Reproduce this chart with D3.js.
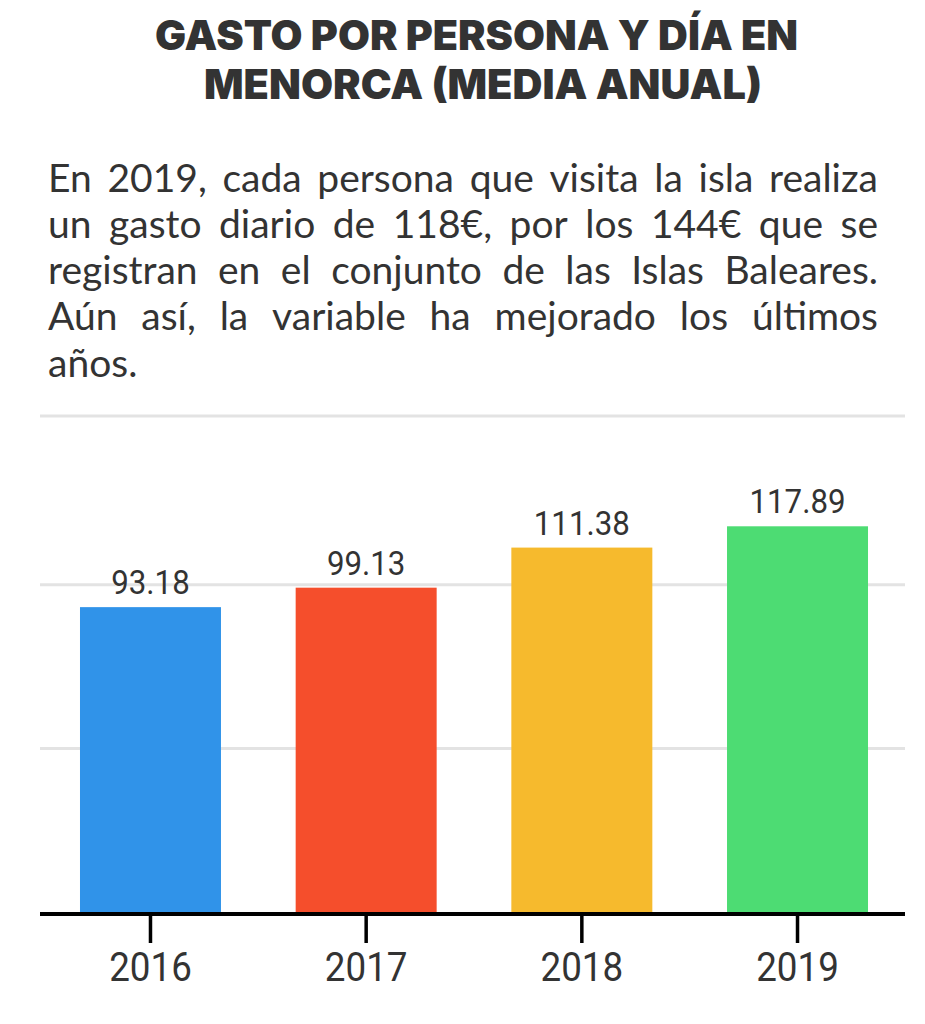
<!DOCTYPE html>
<html>
<head>
<meta charset="utf-8">
<script src="https://cdn.jsdelivr.net/npm/d3@7/dist/d3.min.js"></script>
<style>
  html, body { margin: 0; padding: 0; background: #ffffff; }
  svg { display: block; }
</style>
</head>
<body>
<svg id="chart" width="925" height="1024"></svg>
<script>
// ---- data ----
const titleLines = ["GASTO POR PERSONA Y DÍA EN", "MENORCA (MEDIA ANUAL)"];
const subtitleLines = [
  "En 2019, cada persona que visita la isla realiza",
  "un gasto diario de 118€, por los 144€ que se",
  "registran en el conjunto de las Islas Baleares.",
  "Aún así, la variable ha mejorado los últimos",
  "años."
];
const years = ["2016", "2017", "2018", "2019"];
const values = [93.18, 99.13, 111.38, 117.89];
const barColors = ["#3093e9", "#f54e2c", "#f6ba2d", "#4ddc73"];
const gridValues = [50, 100];

// ---- layout ----
const svg = d3.select("#chart");
const textColor = "#333333";
const plot = { left: 40, right: 905, top: 416, bottom: 912 };
const yMax = 151.6;

// Title
const titleSpecs = [
  { x0: 155, x1: 798, base: 50 },
  { x0: 204, x1: 762, base: 99 }
];
titleLines.forEach((t, i) => {
  const s = titleSpecs[i];
  svg.append("text")
    .attr("x", s.x0).attr("y", s.base)
    .attr("font-family", "Inter, 'Open Sans', sans-serif")
    .attr("font-weight", 900)
    .attr("font-size", 41)
    .attr("fill", textColor)
    .attr("textLength", s.x1 - s.x0)
    .attr("lengthAdjust", "spacingAndGlyphs")
    .text(t);
});

// Subtitle (justified)
const subFont = { family: "Lato, sans-serif", size: 39 };
const subX0 = 48, subX1 = 878;
const subBase0 = 191.7, subStep = 46.25;
function measure(str) {
  const t = svg.append("text")
    .attr("font-family", subFont.family)
    .attr("font-size", subFont.size)
    .text(str);
  const w = t.node().getComputedTextLength();
  t.remove();
  return w;
}
const spaceW = measure("a b") - measure("ab");
subtitleLines.forEach((line, i) => {
  const words = line.split(" ");
  const widths = words.map(measure);
  const total = d3.sum(widths);
  const justified = i < subtitleLines.length - 1 && words.length > 1;
  const gap = justified ? (subX1 - subX0 - total) / (words.length - 1) : spaceW;
  let x = subX0;
  const y = subBase0 + i * subStep;
  words.forEach((w, j) => {
    svg.append("text")
      .attr("x", x).attr("y", y)
      .attr("font-family", subFont.family)
      .attr("font-size", subFont.size)
      .attr("fill", textColor)
      .text(w);
    x += widths[j] + gap;
  });
});

// Scales
const x = d3.scaleBand()
  .domain(years)
  .range([plot.left, 908])
  .paddingInner(0.3463)
  .paddingOuter(0.1854);
const y = d3.scaleLinear()
  .domain([0, yMax])
  .range([plot.bottom, plot.top]);

// Gridlines
const grid = svg.append("g");
grid.selectAll("line.g")
  .data(gridValues)
  .join("line")
  .attr("x1", plot.left).attr("x2", plot.right)
  .attr("y1", d => y(d)).attr("y2", d => y(d))
  .attr("stroke", "#e3e3e3").attr("stroke-width", 3);
grid.append("line")
  .attr("x1", plot.left).attr("x2", plot.right)
  .attr("y1", y.range()[1]).attr("y2", y.range()[1])
  .attr("stroke", "#e3e3e3").attr("stroke-width", 3);

// Bars
svg.append("g").selectAll("rect")
  .data(values)
  .join("rect")
  .attr("x", (d, i) => x(years[i]))
  .attr("width", x.bandwidth())
  .attr("y", d => y(d))
  .attr("height", d => y(0) - y(d))
  .attr("fill", (d, i) => barColors[i]);

// Value labels
const condense = 0.92;
svg.append("g").selectAll("text")
  .data(values)
  .join("text")
  .attr("transform", (d, i) => `translate(${x(years[i]) + x.bandwidth() / 2},${y(d) - 13}) scale(${condense},1)`)
  .attr("text-anchor", "middle")
  .attr("font-family", "Roboto, sans-serif")
  .attr("font-size", 34)
  .attr("fill", textColor)
  .text(d => d.toFixed(2));

// X axis
const axisG = svg.append("g")
  .attr("transform", `translate(0,${plot.bottom + 2})`);
axisG.append("line")
  .attr("x1", plot.left).attr("x2", plot.right)
  .attr("y1", 0).attr("y2", 0)
  .attr("stroke", "#000").attr("stroke-width", 4);
const ticks = axisG.selectAll("g.tick")
  .data(years)
  .join("g")
  .attr("class", "tick")
  .attr("transform", d => `translate(${x(d) + x.bandwidth() / 2},0)`);
ticks.append("line")
  .attr("y1", 2).attr("y2", 29)
  .attr("stroke", "#000").attr("stroke-width", 3.5);
ticks.append("text")
  .attr("transform", "translate(0,67) scale(0.92,1)")
  .attr("text-anchor", "middle")
  .attr("font-family", "Roboto, sans-serif")
  .attr("font-size", 40)
  .attr("fill", textColor)
  .text(d => d);
</script>
</body>
</html>
